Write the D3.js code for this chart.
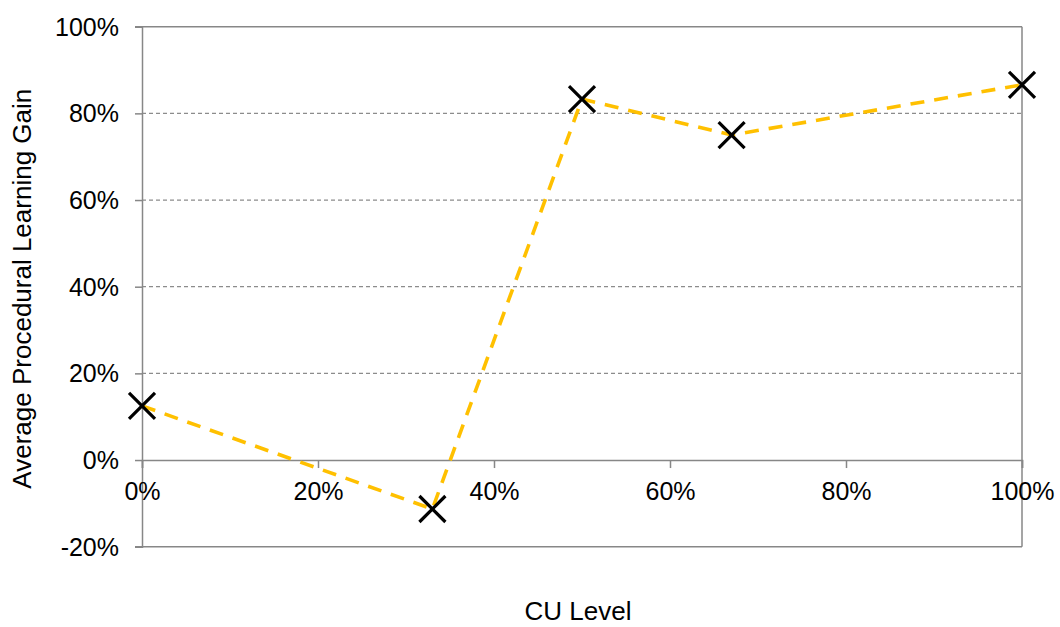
<!DOCTYPE html>
<html>
<head>
<meta charset="utf-8">
<script src="https://cdn.jsdelivr.net/npm/d3@7"></script>
<style>
  html, body { margin: 0; padding: 0; background: #fff; }
  svg { display: block; font-family: "Liberation Sans", Arial, sans-serif; }
</style>
</head>
<body>
<svg id="chart" width="1060" height="627"></svg>
<script>
// CU level (fraction) and average procedural learning gain (fraction)
const cuLevels = [0, 0.33, 0.5, 0.67, 1];
const learningGain = [0.125, -0.113, 0.833, 0.75, 0.866];
const xTicks = [0, 0.2, 0.4, 0.6, 0.8, 1.0];
const yTicks = [-0.2, 0, 0.2, 0.4, 0.6, 0.8, 1.0];

const svg = d3.select("#chart");
const plotLeft = 142, plotRight = 1022, plotTop = 26.7, plotBottom = 546.7;

const x = d3.scaleLinear().domain([0, 1]).range([plotLeft, plotRight]);
const y = d3.scaleLinear().domain([-0.2, 1.0]).range([plotBottom, plotTop]);
// percent labels with a plain hyphen for negatives
const pct = v => `${Math.round(v * 100)}%`;
const axisGrey = "#878787";

// horizontal dashed gridlines
svg.append("g")
  .selectAll("line")
  .data(yTicks.filter(v => v !== 0 && v !== -0.2 && v !== 1.0))
  .join("line")
  .attr("x1", plotLeft).attr("x2", plotRight)
  .attr("y1", d => y(d)).attr("y2", d => y(d))
  .attr("stroke", "#8c8c8c")
  .attr("stroke-width", 1.2)
  .attr("stroke-dasharray", "4,3");

// plot-area frame: top, bottom and right edges
const frame = svg.append("g").attr("stroke", axisGrey).attr("stroke-width", 1.5);
frame.append("line").attr("x1", plotLeft - 7).attr("x2", plotRight).attr("y1", y(1.0)).attr("y2", y(1.0));
frame.append("line").attr("x1", plotLeft - 7).attr("x2", plotRight).attr("y1", y(-0.2)).attr("y2", y(-0.2));
frame.append("line").attr("x1", plotRight).attr("x2", plotRight).attr("y1", y(1.0)).attr("y2", y(-0.2));

// y axis on the left
const yAxis = svg.append("g")
  .attr("transform", `translate(${plotLeft},0)`)
  .call(d3.axisLeft(y).tickValues(yTicks).tickFormat(pct).tickSize(7).tickPadding(16));
yAxis.select(".domain").attr("stroke", axisGrey).attr("stroke-width", 1.5);
yAxis.selectAll(".tick line").attr("stroke", axisGrey).attr("stroke-width", 1.5);
yAxis.selectAll(".tick text")
  .attr("fill", "#000").attr("font-size", 25)
  .attr("font-family", "Liberation Sans, Arial, sans-serif")
  .attr("dy", "0.34em");

// x axis drawn along the zero line
const xAxis = svg.append("g")
  .attr("transform", `translate(0,${y(0)})`)
  .call(d3.axisBottom(x).tickValues(xTicks).tickFormat(pct).tickSize(8).tickPadding(14));
xAxis.select(".domain").attr("stroke", axisGrey).attr("stroke-width", 1.5);
xAxis.selectAll(".tick line").attr("stroke", axisGrey).attr("stroke-width", 1.5);
xAxis.selectAll(".tick text")
  .attr("fill", "#000").attr("font-size", 25)
  .attr("font-family", "Liberation Sans, Arial, sans-serif");

const pts = cuLevels.map((c, i) => [c, learningGain[i]]);

// dashed orange connecting line
svg.append("path")
  .datum(pts)
  .attr("fill", "none")
  .attr("stroke", "#FFC000")
  .attr("stroke-width", 3.6)
  .attr("stroke-dasharray", "14,10")
  .attr("d", d3.line().x(d => x(d[0])).y(d => y(d[1])));

// X-shaped markers
const s = 13;
svg.append("g").selectAll("path")
  .data(pts)
  .join("path")
  .attr("d", d => {
    const cx = x(d[0]), cy = y(d[1]);
    return `M${cx - s},${cy - s}L${cx + s},${cy + s}M${cx - s},${cy + s}L${cx + s},${cy - s}`;
  })
  .attr("stroke", "#000")
  .attr("stroke-width", 3.2)
  .attr("fill", "none");

// axis titles
svg.append("text")
  .attr("x", (plotLeft + plotRight) / 2 - 4).attr("y", 620)
  .attr("text-anchor", "middle")
  .attr("font-size", 26)
  .text("CU Level");

svg.append("text")
  .attr("transform", `translate(31,${(plotTop + plotBottom) / 2 + 2}) rotate(-90)`)
  .attr("text-anchor", "middle")
  .attr("font-size", 26)
  .text("Average Procedural Learning Gain");
</script>
</body>
</html>
